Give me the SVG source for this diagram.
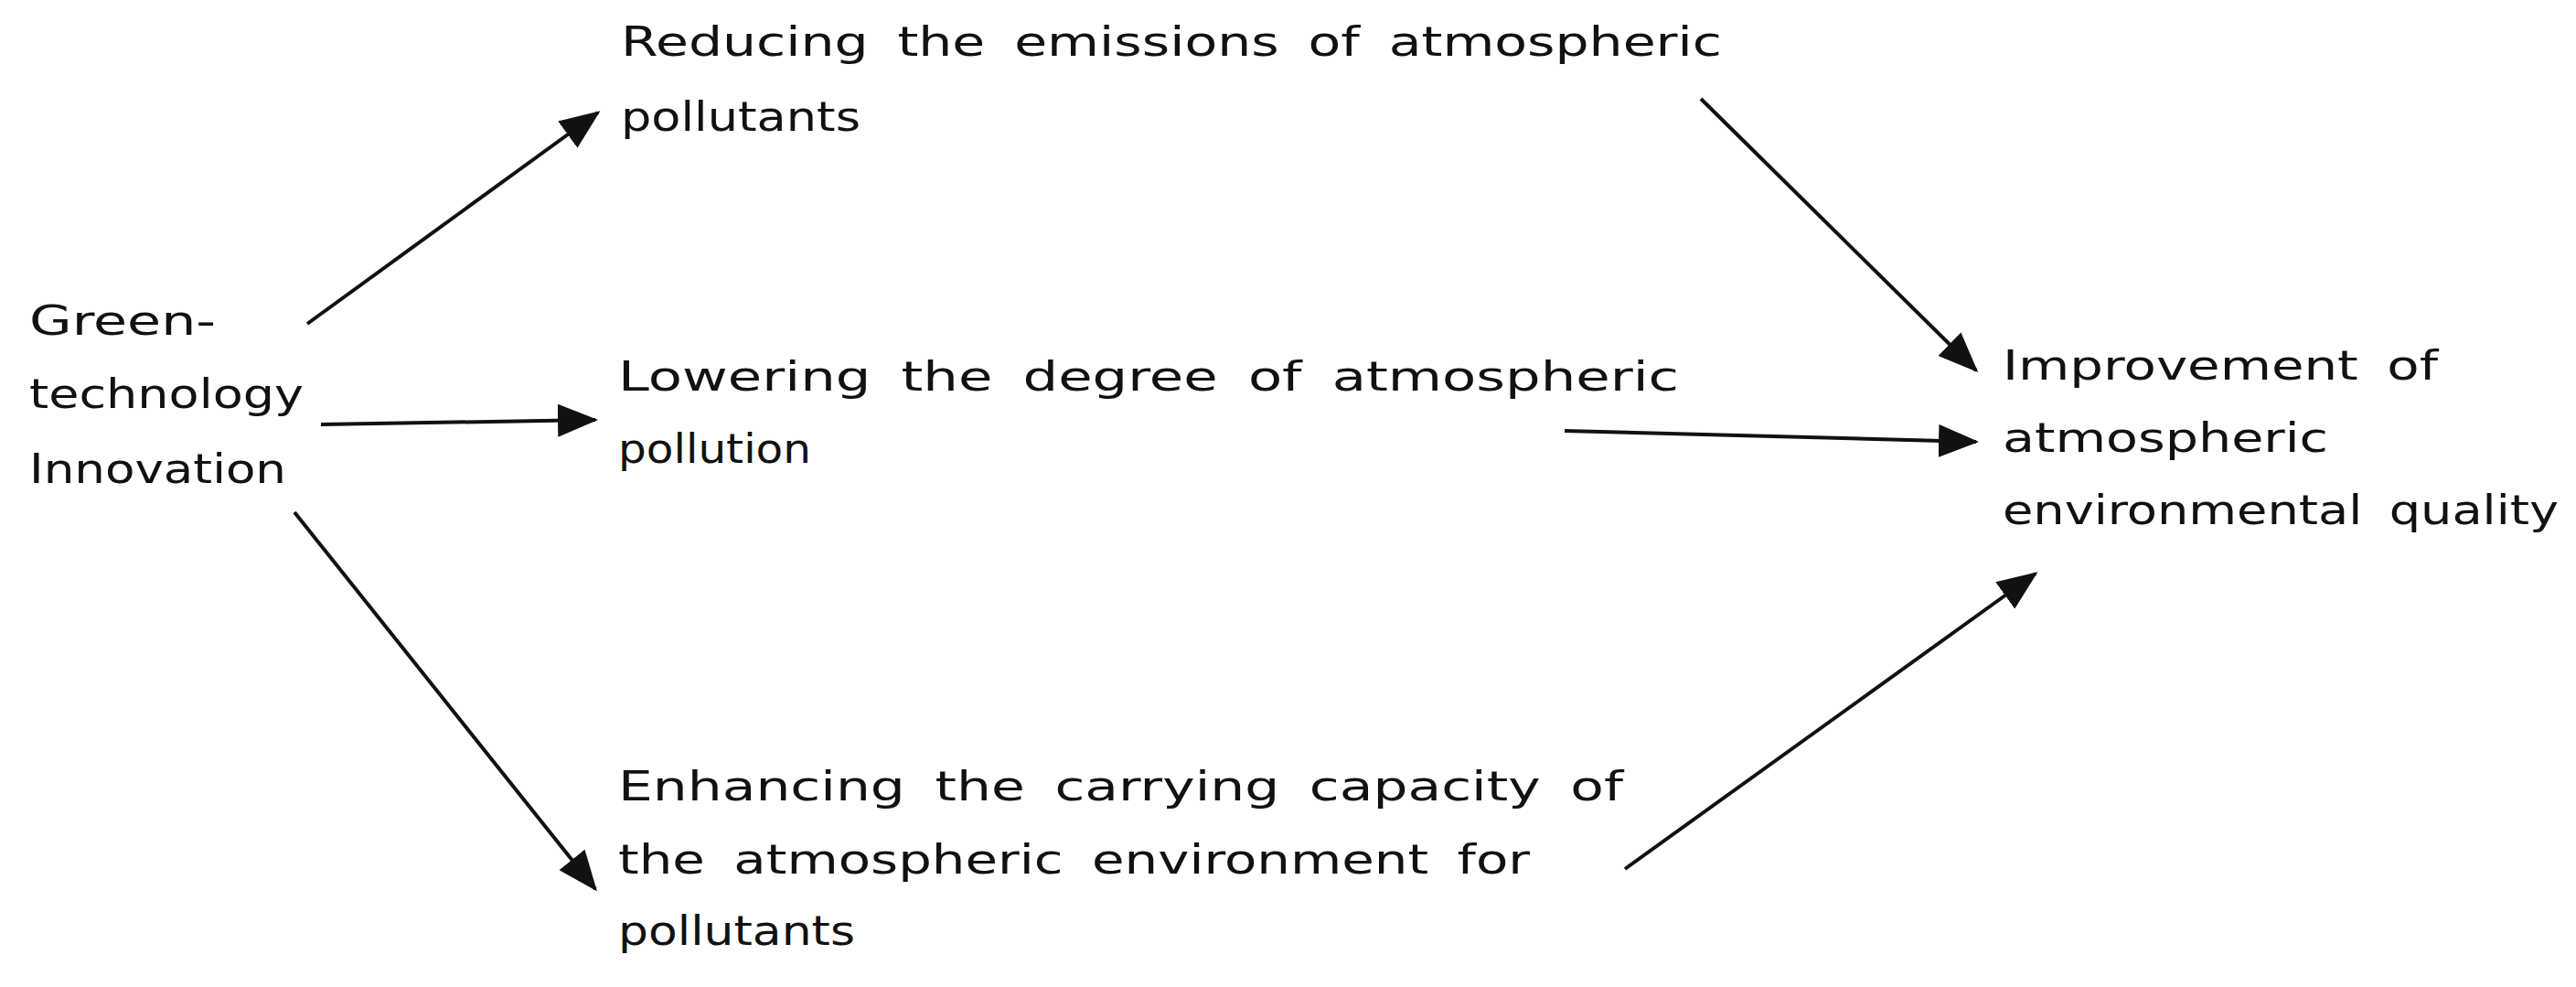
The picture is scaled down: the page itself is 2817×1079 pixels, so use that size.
<svg xmlns="http://www.w3.org/2000/svg" width="2817" height="1079" viewBox="0 0 2817 1079">
<style>
  .t { font-family: "DejaVu Sans", "Liberation Sans", sans-serif; font-size: 44px; fill: #111; word-spacing: 10px; }
  .c { stroke: #111; stroke-width: 4; fill: none; marker-end: url(#ah); }
</style>
<defs>
  <marker id="ah" markerUnits="userSpaceOnUse" markerWidth="44" markerHeight="36" refX="41" refY="18" orient="auto">
    <path d="M0,0 L44,18 L0,36 Z" fill="#111"/>
  </marker>
</defs>
<rect width="2817" height="1079" fill="#fff"/>
<g id="connectors">
  <line class="c" x1="336" y1="354" x2="654" y2="123"/>
  <line class="c" x1="351" y1="464" x2="651" y2="459"/>
  <line class="c" x1="322" y1="560" x2="651" y2="972"/>
  <line class="c" x1="1860" y1="108" x2="2161" y2="405"/>
  <line class="c" x1="1711" y1="471" x2="2161" y2="483"/>
  <line class="c" x1="1777" y1="950" x2="2226" y2="627"/>
</g>
<g id="node-green">
  <text class="t" x="32" y="366" textLength="204" lengthAdjust="spacingAndGlyphs">Green-</text>
  <text class="t" x="32" y="446" textLength="300" lengthAdjust="spacingAndGlyphs">technology</text>
  <text class="t" x="32" y="528" textLength="281" lengthAdjust="spacingAndGlyphs">Innovation</text>
</g>
<g id="node-reducing">
  <text class="t" x="679" y="61" textLength="1204" lengthAdjust="spacingAndGlyphs">Reducing the emissions of atmospheric</text>
  <text class="t" x="679" y="143" textLength="262" lengthAdjust="spacingAndGlyphs">pollutants</text>
</g>
<g id="node-lowering">
  <text class="t" x="676" y="427" textLength="1160" lengthAdjust="spacingAndGlyphs">Lowering the degree of atmospheric</text>
  <text class="t" x="676" y="506" textLength="211" lengthAdjust="spacingAndGlyphs">pollution</text>
</g>
<g id="node-enhancing">
  <text class="t" x="676" y="875" textLength="1099" lengthAdjust="spacingAndGlyphs">Enhancing the carrying capacity of</text>
  <text class="t" x="676" y="955" textLength="997" lengthAdjust="spacingAndGlyphs">the atmospheric environment for</text>
  <text class="t" x="676" y="1033" textLength="259" lengthAdjust="spacingAndGlyphs">pollutants</text>
</g>
<g id="node-improvement">
  <text class="t" x="2190" y="415" textLength="476" lengthAdjust="spacingAndGlyphs">Improvement of</text>
  <text class="t" x="2190" y="494" textLength="356" lengthAdjust="spacingAndGlyphs">atmospheric</text>
  <text class="t" x="2190" y="573" textLength="608" lengthAdjust="spacingAndGlyphs">environmental quality</text>
</g>
</svg>
